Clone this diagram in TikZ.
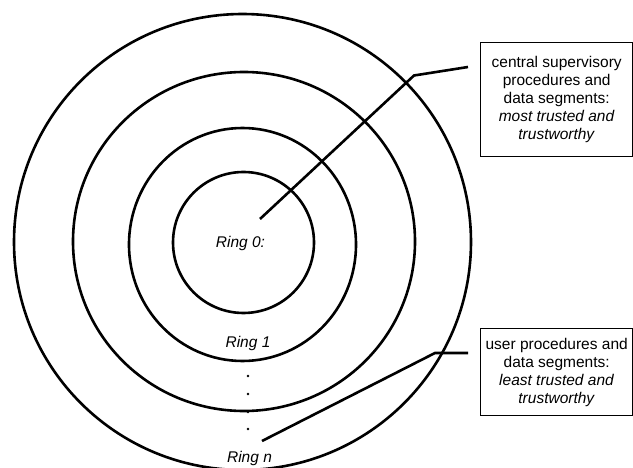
\documentclass[tikz,border=0pt]{standalone}
\usepackage{fontspec}
\setmainfont{Liberation Sans}
\begin{document}
\begin{tikzpicture}[x=1pt,y=-1pt,
  ring/.style={line width=2.6pt},
  leader/.style={line width=2.6pt, line join=miter},
  infobox/.style={draw, line width=1.4pt, anchor=north west, align=center,
    inner sep=0pt, font=\fontsize{15.5}{18}\selectfont},
  ringlabel/.style={font=\fontsize{15.5}{18}\selectfont\itshape, inner sep=1pt},
  dotmark/.style={fill, circle, inner sep=0pt, minimum size=2.6pt}]
\useasboundingbox (0,0) rectangle (633,468);

% protection rings, outermost first
\draw[ring] (242.5,242) ellipse [x radius=228.5, y radius=228];
\draw[ring] (244,241.5) ellipse [x radius=171, y radius=169.5];
\draw[ring] (242.5,244.5) ellipse [x radius=113.5, y radius=116.5];
\draw[ring] (243.5,242.5) ellipse [x radius=70.5, y radius=70.5];

% ring labels
\node[ringlabel] (r0) at (240.5,243) {Ring 0:};
\node[ringlabel] (r1) at (248,343) {Ring 1};
\node[ringlabel] (rn) at (249.5,458) {Ring n};

% dots between Ring 1 and Ring n
\foreach \k/\yy in {1/376, 2/394, 3/412, 4/429}
  \node[dotmark] (dot\k) at (248,\yy) {};

% explanation boxes
\node[infobox, minimum width=152pt, minimum height=114pt] (top) at (480,42)
  {central supervisory\\procedures and\\data segments:\\\textit{most trusted and}\\\textit{trustworthy}};
\node[infobox, minimum width=152pt, minimum height=87pt] (bot) at (480,328)
  {user procedures and\\data segments:\\\textit{least trusted and}\\\textit{trustworthy}};

% leader lines
\coordinate (tipA) at (260,219);
\coordinate (kneeA) at (414,75.5);
\coordinate (endA) at (468,67);
\coordinate (tipB) at (262,441);
\coordinate (kneeB) at (435,353);
\coordinate (endB) at (468,353);
\draw[leader] (tipA) -- (kneeA) -- (endA);
\draw[leader] (tipB) -- (kneeB) -- (endB);
\end{tikzpicture}
\end{document}
